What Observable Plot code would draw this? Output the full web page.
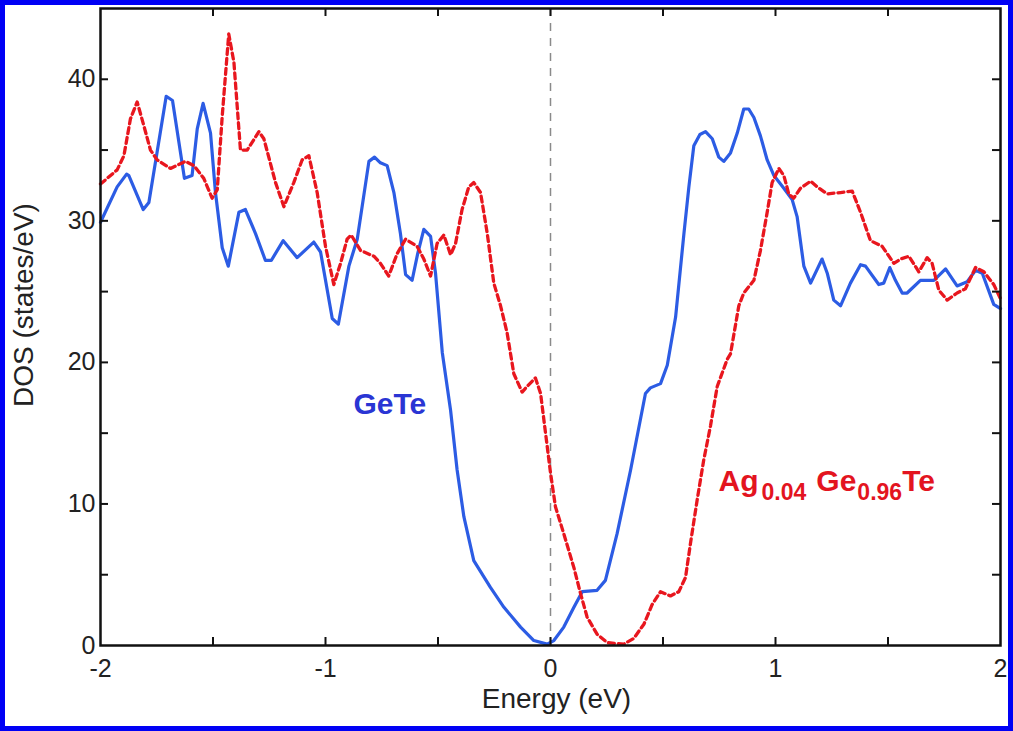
<!DOCTYPE html>
<html>
<head>
<meta charset="utf-8">
<script src="https://cdn.jsdelivr.net/npm/d3@7"></script>
<script src="https://cdn.jsdelivr.net/npm/@observablehq/plot@0.6"></script>
<style>
  html, body { margin: 0; padding: 0; background: #fff; }
  #chart svg { display: block; outline: 5px solid #0000f5; outline-offset: -5px; background: #fff; }
</style>
</head>
<body>
<div id="chart"></div>
<script>
// ---- data ----
const geteEnergy = [-2.0,-1.926,-1.884,-1.874,-1.81,-1.785,-1.708,-1.68,-1.627,-1.593,-1.57,-1.544,-1.511,-1.489,-1.459,-1.432,-1.385,-1.356,-1.311,-1.267,-1.241,-1.188,-1.126,-1.052,-1.022,-0.97,-0.943,-0.896,-0.859,-0.807,-0.782,-0.756,-0.726,-0.696,-0.667,-0.644,-0.615,-0.59,-0.563,-0.533,-0.511,-0.481,-0.444,-0.415,-0.385,-0.341,-0.267,-0.207,-0.133,-0.074,-0.015,0.015,0.059,0.104,0.141,0.207,0.244,0.296,0.356,0.422,0.444,0.489,0.519,0.556,0.593,0.615,0.637,0.664,0.689,0.719,0.748,0.77,0.8,0.83,0.859,0.881,0.904,0.933,0.963,0.993,1.037,1.074,1.096,1.126,1.156,1.207,1.23,1.259,1.289,1.333,1.378,1.4,1.459,1.481,1.508,1.533,1.563,1.585,1.644,1.704,1.756,1.807,1.852,1.889,1.919,1.97,2.0];
const geteDOS = [29.9,32.4,33.3,33.2,30.8,31.3,38.8,38.5,33.0,33.2,36.5,38.3,36.2,32.0,28.1,26.8,30.6,30.8,29.1,27.2,27.2,28.6,27.4,28.5,27.8,23.1,22.7,26.8,28.7,34.2,34.5,34.1,33.9,32.0,29.1,26.2,25.8,27.7,29.4,28.9,26.3,20.7,16.6,12.4,9.1,6.0,4.1,2.7,1.3,0.35,0.1,0.35,1.3,2.7,3.8,3.9,4.6,7.9,12.4,17.8,18.2,18.5,19.8,23.2,29.1,32.4,35.3,36.1,36.3,35.8,34.5,34.2,34.8,36.2,37.9,37.9,37.3,36.0,34.3,33.2,32.3,31.5,30.3,26.8,25.6,27.3,26.3,24.4,24.0,25.6,26.9,26.8,25.5,25.6,26.7,25.8,24.9,24.9,25.8,25.8,26.6,25.4,25.7,26.5,26.3,24.1,23.8];

const agEnergy = [-2.0,-1.926,-1.896,-1.867,-1.837,-1.807,-1.778,-1.748,-1.689,-1.622,-1.585,-1.541,-1.504,-1.481,-1.459,-1.43,-1.407,-1.378,-1.348,-1.296,-1.274,-1.222,-1.185,-1.141,-1.104,-1.074,-1.037,-1.0,-0.963,-0.933,-0.904,-0.886,-0.844,-0.785,-0.756,-0.719,-0.681,-0.644,-0.593,-0.563,-0.533,-0.504,-0.474,-0.444,-0.422,-0.393,-0.363,-0.341,-0.311,-0.281,-0.252,-0.222,-0.193,-0.163,-0.126,-0.104,-0.067,-0.044,-0.022,0.0,0.022,0.059,0.104,0.133,0.163,0.207,0.252,0.326,0.37,0.415,0.452,0.489,0.533,0.57,0.6,0.622,0.652,0.681,0.711,0.741,0.785,0.8,0.837,0.859,0.904,0.933,0.963,0.985,1.015,1.037,1.059,1.081,1.111,1.156,1.185,1.23,1.289,1.341,1.378,1.422,1.474,1.526,1.556,1.593,1.637,1.674,1.696,1.726,1.763,1.807,1.844,1.889,1.926,1.97,2.0];
const agDOS = [32.6,33.6,34.6,37.2,38.4,36.7,35.0,34.3,33.7,34.2,33.9,33.0,31.6,32.2,37.4,43.2,41.2,35.0,35.0,36.3,35.8,32.7,31.0,32.7,34.3,34.6,32.0,28.2,25.5,27.0,28.7,29.0,27.9,27.5,27.0,26.1,27.7,28.7,28.2,27.3,26.1,28.4,29.0,27.6,28.4,30.8,32.4,32.7,32.0,29.1,25.6,24.0,22.1,19.2,17.9,18.3,18.9,17.8,15.0,12.2,9.8,7.9,5.5,3.7,2.0,0.8,0.2,0.1,0.5,1.5,2.9,3.8,3.5,3.8,4.8,7.2,10.3,13.1,15.5,18.3,20.2,20.6,24.0,24.9,25.8,27.9,30.6,32.7,33.7,33.2,31.9,31.6,32.3,32.8,32.4,31.9,32.0,32.1,30.6,28.6,28.2,27.0,27.3,27.5,26.4,27.4,27.0,25.1,24.4,24.9,25.2,26.7,26.4,25.5,24.5];

const xTickLabels = [-2, -1, 0, 1, 2];
const xTickMarks = [-1.5, -1, -0.5, 0, 0.5, 1, 1.5];
const yTickLabels = [0, 10, 20, 30, 40];
const yTickMarks = [5, 10, 15, 20, 25, 30, 35, 40];

const seriesLabels = [
  {text: "GeTe", energy: -0.876, dos: 17.05, color: "#2a35d4"},
  {text: "Ag0.04Ge0.96Te", energy: 0.747, dos: 11.6, color: "#e3141f"}
];

// ---- layout ----
const W = 1013, H = 731;
const mL = 100, mR = 13, mT = 8, mB = 86;
const pw = W - mL - mR, ph = H - mT - mB;
const tick = 8;

const gete = geteEnergy.map((e, i) => ({e, d: geteDOS[i]}));
const ag = agEnergy.map((e, i) => ({e, d: agDOS[i]}));

const chart = Plot.plot({
  width: W, height: H,
  marginLeft: mL, marginRight: mR, marginTop: mT, marginBottom: mB,
  style: {fontFamily: "'Liberation Sans', Arial, Helvetica, sans-serif", background: "#fff", color: "#222"},
  x: {domain: [-2, 2]},
  y: {domain: [0, 45]},
  marks: [
    Plot.ruleX([0], {stroke: "#8a8a8a", strokeWidth: 1.5, strokeDasharray: "8,7"}),
    Plot.line(gete, {x: "e", y: "d", stroke: "#2c5ce4", strokeWidth: 3.2, strokeLinejoin: "round"}),
    Plot.line(ag, {x: "e", y: "d", stroke: "#e8161e", strokeWidth: 3.3, strokeDasharray: "6,4"}),
    Plot.frame({stroke: "#111", strokeWidth: 2.5}),
    Plot.ruleX(xTickMarks, {x: d => d, insetTop: ph - tick, stroke: "#111", strokeWidth: 2}),
    Plot.ruleX(xTickMarks, {x: d => d, insetBottom: ph - tick, stroke: "#111", strokeWidth: 2}),
    Plot.ruleY(yTickMarks, {y: d => d, insetRight: pw - tick, stroke: "#111", strokeWidth: 2}),
    Plot.ruleY(yTickMarks, {y: d => d, insetLeft: pw - tick, stroke: "#111", strokeWidth: 2}),
    Plot.axisX({ticks: xTickLabels, tickSize: 0, tickPadding: 14, fontSize: 25, tickFormat: d => String(d), label: null, fill: "#222"}),
    Plot.axisY({ticks: yTickLabels, tickSize: 0, tickPadding: 5, fontSize: 25, tickFormat: d => String(d), label: null, fill: "#222"}),
    Plot.text(["Energy (eV)"], {text: d => d, frameAnchor: "bottom", textAnchor: "middle", dx: 6, dy: 54, lineAnchor: "middle", fontSize: 28, fill: "#222"}),
    Plot.text(["DOS (states/eV)"], {text: d => d, frameAnchor: "left", textAnchor: "middle", rotate: -90, dx: -76, dy: -22, lineAnchor: "middle", fontSize: 28, fill: "#222"}),
    Plot.text(seriesLabels, {x: "energy", y: "dos", text: "text", fill: "color", textAnchor: "start", lineAnchor: "middle", fontSize: 30, fontWeight: "bold"})
  ]
});

// subscripts for the alloy label
chart.querySelectorAll("text").forEach(t => {
  if (t.textContent === "Ag0.04Ge0.96Te") {
    t.textContent = "";
    const ns = "http://www.w3.org/2000/svg";
    const parts = [
      ["Ag", 30, 0, 0], ["0.04", 23, 3, 9], ["Ge", 30, 10, -9], ["0.96", 23, 1, 9], ["Te", 30, 0, -9]
    ];
    parts.forEach(([s, fs, dx, dy]) => {
      const ts = document.createElementNS(ns, "tspan");
      ts.textContent = s;
      ts.setAttribute("font-size", fs);
      if (dx) ts.setAttribute("dx", dx);
      if (dy) ts.setAttribute("dy", dy);
      t.appendChild(ts);
    });
  }
});

document.getElementById("chart").appendChild(chart);
</script>
</body>
</html>
